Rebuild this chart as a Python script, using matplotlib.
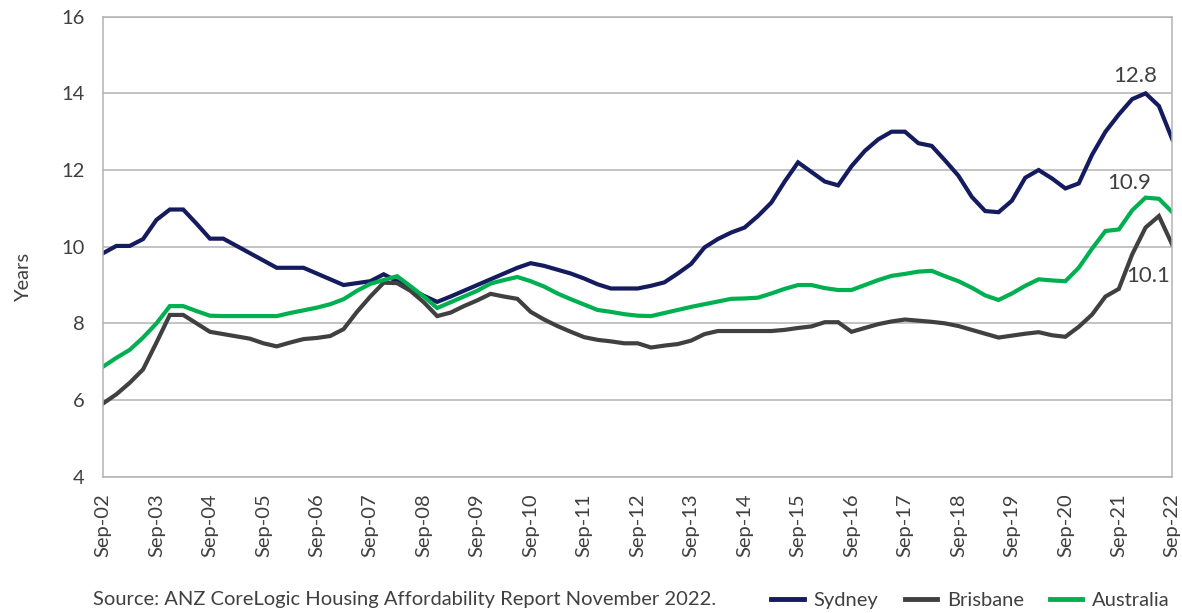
import numpy as np
import matplotlib
matplotlib.use("Agg")
import matplotlib.pyplot as plt
from matplotlib.lines import Line2D
import pandas as pd

plt.rcParams['font.family'] = ['Lato', 'DejaVu Sans']

# quarterly, Sep-02 .. Sep-22
quarters = pd.date_range("2002-09-30", "2022-09-30", freq="QE")

sydney = [9.83, 10.02, 10.02, 10.2, 10.7, 10.97, 10.97, 10.6, 10.21, 10.21,
          10.02, 9.83, 9.64, 9.45, 9.45, 9.45, 9.3, 9.15, 9.0, 9.05,
          9.1, 9.28, 9.1, 8.9, 8.72, 8.56, 8.7, 8.85, 9.0, 9.15,
          9.3, 9.45, 9.57, 9.5, 9.4, 9.3, 9.17, 9.02, 8.91, 8.91,
          8.91, 8.98, 9.07, 9.3, 9.55, 9.98, 10.2, 10.37, 10.5, 10.8,
          11.15, 11.7, 12.2, 11.95, 11.7, 11.6, 12.1, 12.5, 12.8, 13.0,
          13.0, 12.7, 12.63, 12.25, 11.85, 11.3, 10.93, 10.9, 11.2, 11.8,
          12.0, 11.78, 11.52, 11.65, 12.4, 13.0, 13.45, 13.85, 14.0, 13.67,
          12.8]
brisbane = [5.91, 6.15, 6.45, 6.8, 7.5, 8.22, 8.22, 8.0, 7.78, 7.72,
            7.66, 7.6, 7.48, 7.4, 7.5, 7.59, 7.62, 7.67, 7.85, 8.3,
            8.7, 9.06, 9.05, 8.85, 8.55, 8.19, 8.28, 8.45, 8.6, 8.77,
            8.7, 8.64, 8.3, 8.1, 7.93, 7.78, 7.64, 7.57, 7.53, 7.48,
            7.48, 7.37, 7.42, 7.46, 7.55, 7.72, 7.8, 7.8, 7.8, 7.8,
            7.8, 7.83, 7.88, 7.92, 8.03, 8.03, 7.78, 7.88, 7.98, 8.05,
            8.1, 8.07, 8.04, 8.0, 7.93, 7.83, 7.73, 7.63, 7.68, 7.73,
            7.77, 7.69, 7.65, 7.91, 8.23, 8.7, 8.9, 9.8, 10.5, 10.8,
            10.05]
australia = [6.87, 7.1, 7.31, 7.63, 8.0, 8.45, 8.45, 8.32, 8.2, 8.19,
             8.19, 8.19, 8.19, 8.19, 8.27, 8.34, 8.41, 8.5, 8.63, 8.85,
             9.03, 9.13, 9.23, 8.97, 8.7, 8.4, 8.55, 8.7, 8.85, 9.04,
             9.13, 9.21, 9.1, 8.96, 8.78, 8.63, 8.49, 8.35, 8.3, 8.24,
             8.2, 8.19, 8.27, 8.35, 8.43, 8.5, 8.57, 8.64, 8.65, 8.67,
             8.78, 8.9, 9.0, 9.0, 8.92, 8.87, 8.87, 9.0, 9.13, 9.24,
             9.29, 9.35, 9.37, 9.23, 9.1, 8.93, 8.73, 8.61, 8.78, 8.98,
             9.15, 9.12, 9.1, 9.45, 9.95, 10.41, 10.45, 10.95, 11.28, 11.25,
             10.9]

labels = ["Sydney", "Brisbane", "Australia"]
colors = ["#141b5e", "#404040", "#00b050"]
txt = "#404040"
grid = "#b3b3b3"
fs = 14.5

fig = plt.figure(figsize=(11.82, 6.13), dpi=100)
ax = fig.add_axes([103 / 1182, 1 - 476.7 / 613, (1172.3 - 103) / 1182, (476.7 - 16.7) / 613])

x = np.arange(len(quarters))
for ser, c in zip([sydney, brisbane, australia], colors):
    ax.plot(x, ser, color=c, lw=3.0, solid_joinstyle='miter')

ax.set_xlim(0, len(x) - 1)
ax.set_ylim(4, 16)
ax.set_yticks(np.arange(4, 17, 2))
ax.yaxis.grid(True, color=grid, lw=1.1)
ax.set_axisbelow(True)
xt = x[::4]
ax.set_xticks(xt)
ax.set_xticklabels([q.strftime("%b-%y") for q in quarters[::4]], rotation=90)
ax.tick_params(axis='both', length=0, labelsize=fs, colors=txt)
ax.tick_params(axis='y', pad=13)
ax.tick_params(axis='x', pad=12)
for s in ax.spines.values():
    s.set_color(grid)
    s.set_linewidth(1.1)

fig.text(24 / 1182, 1 - 277 / 613, "Years", rotation=90, ha='center', va='center',
         fontsize=fs, color=txt)

# end-value labels
ax.annotate(f"{sydney[-1]:.1f}", xy=(x[-1], sydney[-1]), xytext=(77.2, 14.45),
            ha='center', va='center', fontsize=16, color=txt)
ax.annotate(f"{australia[-1]:.1f}", xy=(x[-1], australia[-1]), xytext=(76.8, 11.66),
            ha='center', va='center', fontsize=16, color=txt)
ax.annotate(f"{brisbane[-1]:.1f}", xy=(x[-1], brisbane[-1]), xytext=(78.2, 9.23),
            ha='center', va='center', fontsize=16, color=txt)

fig.text(93 / 1182, 1 - 600 / 613, "Source: ANZ CoreLogic Housing Affordability Report November 2022.",
         ha='left', va='center', fontsize=fs, color=txt)

handles = [Line2D([], [], color=c, lw=3.5) for c in colors]
fig.legend(handles, labels, loc='center right', bbox_to_anchor=(1180 / 1182, 1 - 600 / 613),
           ncol=3, frameon=False, fontsize=fs, handlelength=1.6, handletextpad=0.5,
           columnspacing=1.3, borderpad=0, labelcolor=txt)

fig.savefig("out.png", dpi=100)
